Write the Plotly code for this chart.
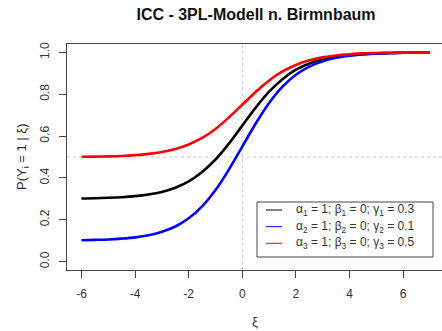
import plotly.graph_objects as go

# ability values (xi) at which the curves were read
xi = [-6, -5.5, -5, -4.5, -4, -3.5, -3, -2.5, -2, -1.5, -1, -0.5, 0,
      0.5, 1, 1.5, 2, 2.5, 3, 3.5, 4, 4.5, 5, 5.5, 6, 6.5, 7]

# item 1: alpha=1, beta=0, gamma=0.3 (black)
p_item1 = [0.302, 0.303, 0.305, 0.308, 0.313, 0.321, 0.333, 0.353, 0.383, 0.428,
           0.488, 0.564, 0.650, 0.736, 0.812, 0.872, 0.917, 0.947, 0.967, 0.979,
           0.987, 0.992, 0.995, 0.997, 0.998, 0.999, 0.999]
# item 2: alpha=1, beta=0, gamma=0.1 (blue)
p_item2 = [0.102, 0.104, 0.106, 0.110, 0.116, 0.126, 0.143, 0.168, 0.207, 0.264,
           0.342, 0.440, 0.550, 0.660, 0.758, 0.836, 0.893, 0.932, 0.957, 0.974,
           0.984, 0.990, 0.994, 0.996, 0.998, 0.999, 0.999]
# item 3: alpha=1, beta=0, gamma=0.5 (red)
p_item3 = [0.501, 0.502, 0.503, 0.505, 0.509, 0.515, 0.524, 0.538, 0.560, 0.591,
           0.634, 0.689, 0.750, 0.811, 0.866, 0.909, 0.940, 0.962, 0.976, 0.985,
           0.991, 0.995, 0.997, 0.998, 0.999, 0.999, 1.000]

series_names = ["α<sub>1</sub> = 1; β<sub>1</sub> = 0; γ<sub>1</sub> = 0.3",
                "α<sub>2</sub> = 1; β<sub>2</sub> = 0; γ<sub>2</sub> = 0.1",
                "α<sub>3</sub> = 1; β<sub>3</sub> = 0; γ<sub>3</sub> = 0.5"]
series_values = [p_item1, p_item2, p_item3]
series_colors = ["#000000", "#0000ff", "#ff0000"]

x_ticks = [-6, -4, -2, 0, 2, 4, 6]
y_ticks = [0.0, 0.2, 0.4, 0.6, 0.8, 1.0]

FONT = "Liberation Sans, Arial, sans-serif"
TXT = "#333333"

fig = go.Figure()

# reference lines
fig.add_vline(x=0, line=dict(color="#c8c8c8", width=1, dash="dot"), layer="below")
fig.add_hline(y=0.5, line=dict(color="#c8c8c8", width=1, dash="dot"), layer="below")

for name, vals, col in zip(series_names, series_values, series_colors):
    fig.add_trace(go.Scatter(x=xi, y=vals, mode="lines", name=name,
                             line=dict(color=col, width=2.6, shape="spline"),
                             showlegend=False, hoverinfo="skip"))

# manual legend (R-style box)
L, R, T, B = 67, 442, 44, 270
W, H = R - L, B - T
def px(x): return (x - L) / W
def py(y): return (B - y) / H

fig.add_shape(type="rect", xref="paper", yref="paper",
              x0=px(257), x1=px(433), y0=py(257), y1=py(202),
              line=dict(color="#444444", width=1), fillcolor="white")
rows_y = [210, 226.7, 243.3]
for name, col, ry in zip(series_names, series_colors, rows_y):
    fig.add_shape(type="line", xref="paper", yref="paper",
                  x0=px(266), x1=px(282), y0=py(ry), y1=py(ry),
                  line=dict(color=col, width=1))
    fig.add_annotation(xref="paper", yref="paper", x=px(294), y=py(ry),
                       text=name, showarrow=False, xanchor="left", yanchor="middle",
                       font=dict(family=FONT, size=12, color=TXT))

# axis titles placed like R's mtext
fig.add_annotation(xref="paper", yref="paper", x=px(255), y=py(321),
                   text="ξ", showarrow=False, xanchor="center", yanchor="middle",
                   font=dict(family=FONT, size=13, color=TXT))
fig.add_annotation(xref="paper", yref="paper", x=px(22), y=py(157),
                   text="P(Y<sub>i</sub> = 1 | ξ)", showarrow=False, textangle=-90,
                   xanchor="center", yanchor="middle",
                   font=dict(family=FONT, size=13, color=TXT))

fig.update_layout(
    width=442, height=331,
    margin=dict(l=L, r=0, t=T, b=331 - B, autoexpand=False),
    paper_bgcolor="white", plot_bgcolor="white",
    font=dict(family=FONT, size=12, color=TXT),
    title=dict(text="<b>ICC - 3PL-Modell n. Birmnbaum</b>",
               x=256 / 442, xanchor="center", y=1 - 14 / 331, yanchor="middle",
               font=dict(family=FONT, size=16, color="#111111")),
)

fig.update_xaxes(range=[-6.54, 7.45], tickmode="array", tickvals=x_ticks,
                 ticktext=[str(v) for v in x_ticks],
                 showgrid=False, zeroline=False, automargin=False,
                 showline=True, mirror=True, linecolor="#444444", linewidth=1,
                 ticks="outside", ticklen=7, tickcolor="#444444",
                 ticklabelstandoff=6)
fig.update_yaxes(range=[-0.04, 1.04], tickmode="array", tickvals=y_ticks,
                 ticktext=["%.1f" % v for v in y_ticks],
                 showgrid=False, zeroline=False, automargin=False,
                 showline=True, mirror=False, linecolor="#444444", linewidth=1,
                 ticks="outside", ticklen=7, tickcolor="#444444",
                 tickangle=-90, ticklabelstandoff=5)

fig.write_html("out.html", config={"displayModeBar": False},
               post_script="document.body.style.margin='0';document.body.style.overflow='hidden';")
